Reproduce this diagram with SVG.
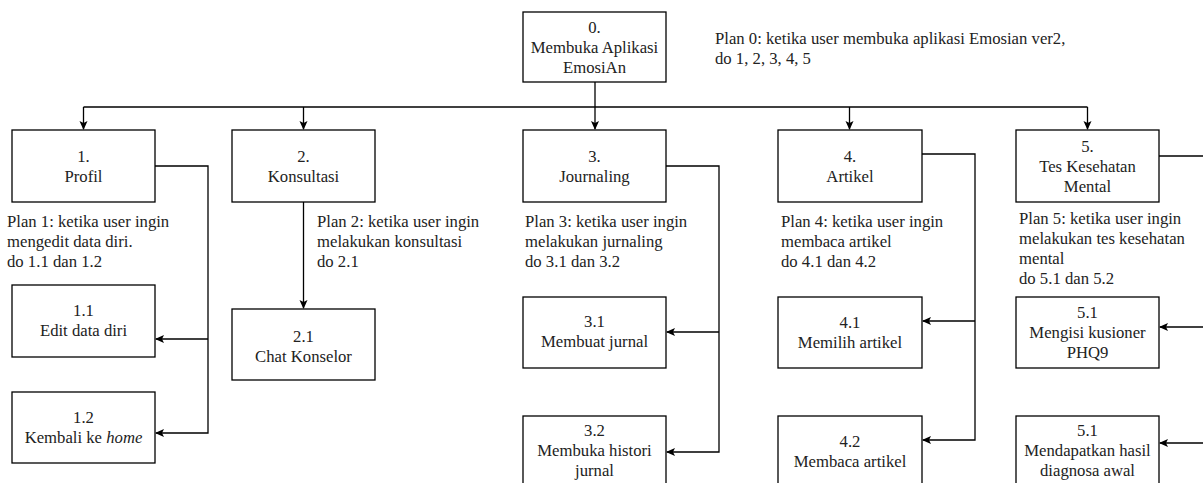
<svg xmlns="http://www.w3.org/2000/svg" width="1203" height="483" viewBox="0 0 1203 483">
<style>
.box{fill:#fff;stroke:#000;stroke-width:1.3}
text{font-family:'Liberation Serif','DejaVu Serif',serif;font-size:16.7px;fill:#222}
.c{text-anchor:middle}
.ln{fill:none;stroke:#000;stroke-width:1.3}
</style>
<defs>
<marker id="ah" markerWidth="10" markerHeight="10" refX="8" refY="4" orient="auto" markerUnits="userSpaceOnUse">
<path d="M0,0 L9,4 L0,8 L2,4 z" fill="#000"/>
</marker>
</defs>
<rect width="1203" height="483" fill="#fff"/>
<g id="connectors">
<path class="ln" d="M595,82 V129" marker-end="url(#ah)"/>
<path class="ln" d="M83.5,107 H1087.5"/>
<path class="ln" d="M83.5,107 V129" marker-end="url(#ah)"/>
<path class="ln" d="M303.5,107 V129" marker-end="url(#ah)"/>
<path class="ln" d="M849.5,107 V129" marker-end="url(#ah)"/>
<path class="ln" d="M1087.5,107 V129" marker-end="url(#ah)"/>
<path class="ln" d="M155,166 H208 V433 H156" marker-end="url(#ah)"/>
<path class="ln" d="M208,339 H156" marker-end="url(#ah)"/>
<path class="ln" d="M303.5,202 V308" marker-end="url(#ah)"/>
<path class="ln" d="M666,166 H719 V452 H667" marker-end="url(#ah)"/>
<path class="ln" d="M719,332 H667" marker-end="url(#ah)"/>
<path class="ln" d="M922,154 H975 V440 H923" marker-end="url(#ah)"/>
<path class="ln" d="M975,321 H923" marker-end="url(#ah)"/>
<path class="ln" d="M1159,156 H1210"/>
<path class="ln" d="M1210,327 H1160" marker-end="url(#ah)"/>
<path class="ln" d="M1210,443 H1160" marker-end="url(#ah)"/>
</g>
<g font-family="Liberation Serif, DejaVu Serif, serif">
<g id="n0">
<rect class="box" x="523" y="12" width="143" height="70"/>
<text class="c" x="594.5" y="32.6">0.</text>
<text class="c" x="594.5" y="52.6">Membuka Aplikasi</text>
<text class="c" x="594.5" y="72.6">EmosiAn</text>
</g>
<g id="plan0">
<text x="715" y="44">Plan 0: ketika user membuka aplikasi Emosian ver2,</text>
<text x="715" y="64">do 1, 2, 3, 4, 5</text>
</g>
<g id="n1">
<rect class="box" x="12" y="130" width="143" height="72"/>
<text class="c" x="83.5" y="161.6">1.</text>
<text class="c" x="83.5" y="181.6">Profil</text>
</g>
<g id="plan1">
<text x="7" y="226.5">Plan 1: ketika user ingin</text>
<text x="7" y="246.5">mengedit data diri.</text>
<text x="7" y="266.5">do 1.1 dan 1.2</text>
</g>
<g id="n1_1">
<rect class="box" x="12" y="285" width="143" height="72"/>
<text class="c" x="83.5" y="316">1.1</text>
<text class="c" x="83.5" y="336">Edit data diri</text>
</g>
<g id="n1_2">
<rect class="box" x="12" y="392" width="143" height="71"/>
<text class="c" x="83.5" y="422.5">1.2</text>
<text class="c" x="83.5" y="442.5">Kembali ke <tspan font-style="italic">home</tspan></text>
</g>
<g id="n2">
<rect class="box" x="232" y="130" width="143" height="72"/>
<text class="c" x="303.5" y="161.6">2.</text>
<text class="c" x="303.5" y="181.6">Konsultasi</text>
</g>
<g id="plan2">
<text x="317" y="226.5">Plan 2: ketika user ingin</text>
<text x="317" y="246.5">melakukan konsultasi</text>
<text x="317" y="266.5">do 2.1</text>
</g>
<g id="n2_1">
<rect class="box" x="232" y="309" width="143" height="71"/>
<text class="c" x="303.5" y="341.5">2.1</text>
<text class="c" x="303.5" y="361.5">Chat Konselor</text>
</g>
<g id="n3">
<rect class="box" x="523" y="130" width="143" height="72"/>
<text class="c" x="594.5" y="161.6">3.</text>
<text class="c" x="594.5" y="181.6">Journaling</text>
</g>
<g id="plan3">
<text x="525" y="227">Plan 3: ketika user ingin</text>
<text x="525" y="247">melakukan jurnaling</text>
<text x="525" y="267">do 3.1 dan 3.2</text>
</g>
<g id="n3_1">
<rect class="box" x="523" y="297" width="143" height="71"/>
<text class="c" x="594.5" y="326.5">3.1</text>
<text class="c" x="594.5" y="346.5">Membuat jurnal</text>
</g>
<g id="n3_2">
<rect class="box" x="523" y="416" width="143" height="72"/>
<text class="c" x="594.5" y="435.5">3.2</text>
<text class="c" x="594.5" y="455.5">Membuka histori</text>
<text class="c" x="594.5" y="475.5">jurnal</text>
</g>
<g id="n4">
<rect class="box" x="778" y="130" width="144" height="72"/>
<text class="c" x="850" y="161.6">4.</text>
<text class="c" x="850" y="181.6">Artikel</text>
</g>
<g id="plan4">
<text x="781" y="227">Plan 4: ketika user ingin</text>
<text x="781" y="247">membaca artikel</text>
<text x="781" y="267">do 4.1 dan 4.2</text>
</g>
<g id="n4_1">
<rect class="box" x="778" y="297" width="144" height="71"/>
<text class="c" x="850" y="327.5">4.1</text>
<text class="c" x="850" y="347.5">Memilih artikel</text>
</g>
<g id="n4_2">
<rect class="box" x="778" y="416" width="144" height="72"/>
<text class="c" x="850" y="446.5">4.2</text>
<text class="c" x="850" y="466.5">Membaca artikel</text>
</g>
<g id="n5">
<rect class="box" x="1016" y="130" width="143" height="72"/>
<text class="c" x="1087.5" y="151.6">5.</text>
<text class="c" x="1087.5" y="171.6">Tes Kesehatan</text>
<text class="c" x="1087.5" y="191.6">Mental</text>
</g>
<g id="plan5">
<text x="1019" y="223.6">Plan 5: ketika user ingin</text>
<text x="1019" y="243.6">melakukan tes kesehatan</text>
<text x="1019" y="263.6">mental</text>
<text x="1019" y="283.6">do 5.1 dan 5.2</text>
</g>
<g id="n5_1">
<rect class="box" x="1016" y="297" width="143" height="71"/>
<text class="c" x="1087.5" y="317.6">5.1</text>
<text class="c" x="1087.5" y="337.6">Mengisi kusioner</text>
<text class="c" x="1087.5" y="357.6">PHQ9</text>
</g>
<g id="n5_2">
<rect class="box" x="1016" y="416" width="143" height="72"/>
<text class="c" x="1087.5" y="435.5">5.1</text>
<text class="c" x="1087.5" y="455.5">Mendapatkan hasil</text>
<text class="c" x="1087.5" y="475.5">diagnosa awal</text>
</g>
</g>
</svg>
